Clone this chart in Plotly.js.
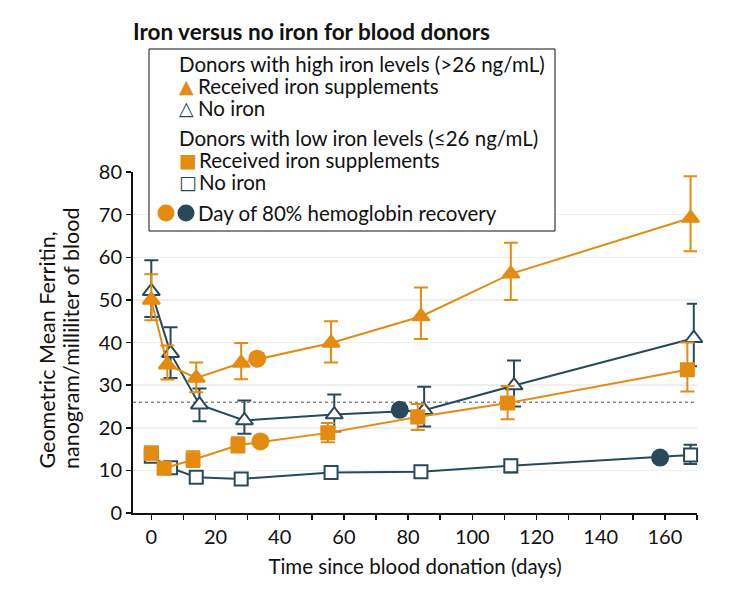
<!DOCTYPE html>
<html>
<head>
<meta charset="utf-8">
<script src="https://cdn.plot.ly/plotly-3.0.1.min.js"></script>
<style>
html, body { margin: 0; padding: 0; background: #ffffff; }
#chart { width: 730px; height: 600px; }
</style>
</head>
<body>
<div id="chart"></div>
<script>
// ---------------- DATA ----------------
// High iron donors (>26 ng/mL), received iron supplements
const hiIronDays  = [0, 5, 14, 28, 56, 84, 112, 168];
const hiIronVals  = [50.0, 34.8, 31.7, 35.2, 39.9, 46.1, 56.1, 69.2];
const hiIronUpper = [56.0, 39.3, 35.3, 39.9, 45.0, 52.9, 63.4, 79.0];
const hiIronLower = [45.2, 31.3, 28.3, 31.4, 35.3, 40.8, 50.0, 61.4];

// High iron donors, no iron
const hiNoDays  = [0, 6, 15, 29, 57, 85, 113, 169];
const hiNoVals  = [52.0, 37.5, 25.4, 21.7, 23.1, 24.1, 29.9, 41.0];
const hiNoUpper = [59.3, 43.6, 29.2, 26.4, 27.8, 29.6, 35.8, 49.1];
const hiNoLower = [46.0, 31.7, 21.5, 18.6, 19.1, 20.3, 25.0, 34.4];

// Low iron donors (<=26 ng/mL), received iron supplements
const loIronDays  = [0, 4, 13, 27, 55, 83, 111, 167];
const loIronVals  = [14.1, 10.5, 12.5, 15.9, 18.8, 22.5, 25.8, 33.6];
const loIronUpper = [15.6, 11.3, 14.5, 17.8, 21.1, 25.6, 29.8, 40.0];
const loIronLower = [12.5, 9.7, 10.8, 14.2, 16.6, 19.5, 22.0, 28.5];

// Low iron donors, no iron
const loNoDays  = [0, 6, 14, 28, 56, 84, 112, 168];
const loNoVals  = [13.3, 10.6, 8.4, 8.0, 9.5, 9.7, 11.1, 13.6];
const loNoUpper = [14.3, 11.6, 9.2, 8.8, 10.4, 10.9, 12.5, 16.0];
const loNoLower = [12.3, 9.6, 7.4, 7.2, 8.6, 8.5, 9.5, 11.5];

// Day of 80% hemoglobin recovery
const recIronDays = [33, 34];
const recIronVals = [36.2, 16.8];
const recNoDays   = [77.4, 158.5];
const recNoVals   = [24.2, 13.0];

// Iron threshold (ng/mL)
const threshold = 26;

// Text
const chartTitle = 'Iron versus no iron for blood donors';
const xTitle = 'Time since blood donation (days)';
const yTitleLines = ['Geometric Mean Ferritin,', 'nanogram/milliliter of blood'];
const legendHeaders = ['Donors with high iron levels (>26 ng/mL)', 'Donors with low iron levels (\u226426 ng/mL)'];
const legendIron = 'Received iron supplements';
const legendNo = 'No iron';
const legendRec = 'Day of 80% hemoglobin recovery';
const xTickVals = [0, 20, 40, 60, 80, 100, 120, 140, 160];
const yTickVals = [0, 10, 20, 30, 40, 50, 60, 70, 80];

// ---------------- STYLE ----------------
const ORANGE = '#e48b12';
const DARK = '#27495a';
const FONT = 'Lato, "Open Sans", sans-serif';
const W = 730, H = 600;
const M = { l: 133, r: 33, t: 172, b: 87 };
const PW = W - M.l - M.r, PH = H - M.t - M.b;
const px = x => (x - M.l) / PW;
const py = y => (H - M.b - y) / PH;

function diff(a, b) { return a.map((v, i) => v - b[i]); }

function series(days, vals, upper, lower, color, symbol, filled) {
  return {
    x: days, y: vals, type: 'scatter', mode: 'lines+markers',
    cliponaxis: false, showlegend: false, hoverinfo: 'skip',
    line: { color: color, width: 2 },
    marker: {
      symbol: symbol, size: symbol.startsWith('triangle') ? 15 : 13,
      color: filled ? color : '#ffffff',
      line: { color: color, width: 2 }
    },
    error_y: {
      type: 'data', symmetric: false,
      array: diff(upper, vals), arrayminus: diff(vals, lower),
      color: color, thickness: 2, width: 7
    }
  };
}

const traces = [
  series(hiNoDays, hiNoVals, hiNoUpper, hiNoLower, DARK, 'triangle-up', false),
  series(loNoDays, loNoVals, loNoUpper, loNoLower, DARK, 'square', false),
  series(hiIronDays, hiIronVals, hiIronUpper, hiIronLower, ORANGE, 'triangle-up', true),
  series(loIronDays, loIronVals, loIronUpper, loIronLower, ORANGE, 'square', true),
  { x: recIronDays, y: recIronVals, type: 'scatter', mode: 'markers', cliponaxis: false,
    showlegend: false, hoverinfo: 'skip', marker: { symbol: 'circle', size: 18, color: ORANGE } },
  { x: recNoDays, y: recNoVals, type: 'scatter', mode: 'markers', cliponaxis: false,
    showlegend: false, hoverinfo: 'skip', marker: { symbol: 'circle', size: 18, color: DARK } }
];

function txt(x, y, text, opts) {
  return Object.assign({
    xref: 'paper', yref: 'paper', x: px(x), y: py(y), text: text,
    showarrow: false, xanchor: 'left', yanchor: 'middle', borderpad: 0,
    font: { family: FONT, size: 20.5, color: '#111' }
  }, opts || {});
}
const glyph = (color) => ({ font: { family: 'DejaVu Sans', size: 19, color: color } });
const yTitleOpts = { textangle: -90, xanchor: 'center', yanchor: 'bottom',
  font: { family: FONT, size: 21.5, color: '#111' } };

const annotations = [
  txt(178, 64, legendHeaders[0]),
  txt(178, 86, '\u25B2', glyph(ORANGE)),
  txt(197, 86, legendIron),
  txt(178, 108, '\u25B3', glyph(DARK)),
  txt(197, 108, legendNo),
  txt(178, 138, legendHeaders[1]),
  txt(178, 160, '\u25A0', glyph(ORANGE)),
  txt(198, 160, legendIron),
  txt(178, 182, '\u25A1', glyph(DARK)),
  txt(198, 182, legendNo),
  txt(197, 213, legendRec),
  txt(46, 470, yTitleLines[0], yTitleOpts),
  txt(71, 470, yTitleLines[1], yTitleOpts)
];

function legendDot(cx, cy, color) {
  return { type: 'circle', xref: 'paper', yref: 'paper', xsizemode: 'pixel', ysizemode: 'pixel',
    xanchor: px(cx), yanchor: py(cy), x0: -8.5, x1: 8.5, y0: -8.5, y1: 8.5,
    fillcolor: color, line: { width: 0 }, layer: 'above' };
}

const shapes = [
  { type: 'line', xref: 'paper', yref: 'y', x0: 0, x1: 1, y0: threshold, y1: threshold,
    line: { color: '#8a8a8a', width: 1.5, dash: 'dot' }, layer: 'below' },
  { type: 'rect', xref: 'paper', yref: 'paper', x0: px(149), x1: px(555), y0: py(231), y1: py(49),
    line: { color: '#111', width: 1 }, fillcolor: '#ffffff', layer: 'above' },
  legendDot(166, 213, ORANGE),
  legendDot(186, 213, DARK)
];

const layout = {
  width: W, height: H,
  margin: M,
  paper_bgcolor: '#ffffff', plot_bgcolor: '#ffffff',
  font: { family: FONT, size: 20, color: '#111' },
  title: {
    text: '<b>' + chartTitle + '</b>',
    xref: 'container', yref: 'container', x: 133 / W, xanchor: 'left',
    y: 1 - 32 / H, yanchor: 'middle',
    font: { family: FONT, size: 22.5, color: '#111' }
  },
  xaxis: {
    range: [-5.7, 170], tickvals: xTickVals,
    ticks: 'outside', ticklen: 5, tickwidth: 1.5, tickcolor: '#111',
    minor: { dtick: 10, tick0: 0, ticks: 'outside', ticklen: 5, tickwidth: 1.5, tickcolor: '#111', showgrid: false },
    showline: true, linecolor: '#111', linewidth: 2,
    showgrid: false, zeroline: false,
    tickfont: { family: FONT, size: 20, color: '#111' },
    title: { text: xTitle, standoff: 13, font: { family: FONT, size: 20.5, color: '#111' } },
    automargin: false
  },
  yaxis: {
    range: [0, 80], tickvals: yTickVals,
    ticks: 'outside', ticklen: 5, tickwidth: 1.5, tickcolor: '#111',
    showline: true, linecolor: '#111', linewidth: 2,
    showgrid: true, gridcolor: '#efefef', gridwidth: 1.5, zeroline: false,
    tickfont: { family: FONT, size: 20, color: '#111' },
    automargin: false
  },
  shapes: shapes,
  annotations: annotations
};

Plotly.newPlot('chart', traces, layout, { displayModeBar: false, staticPlot: true });
</script>
</body>
</html>
